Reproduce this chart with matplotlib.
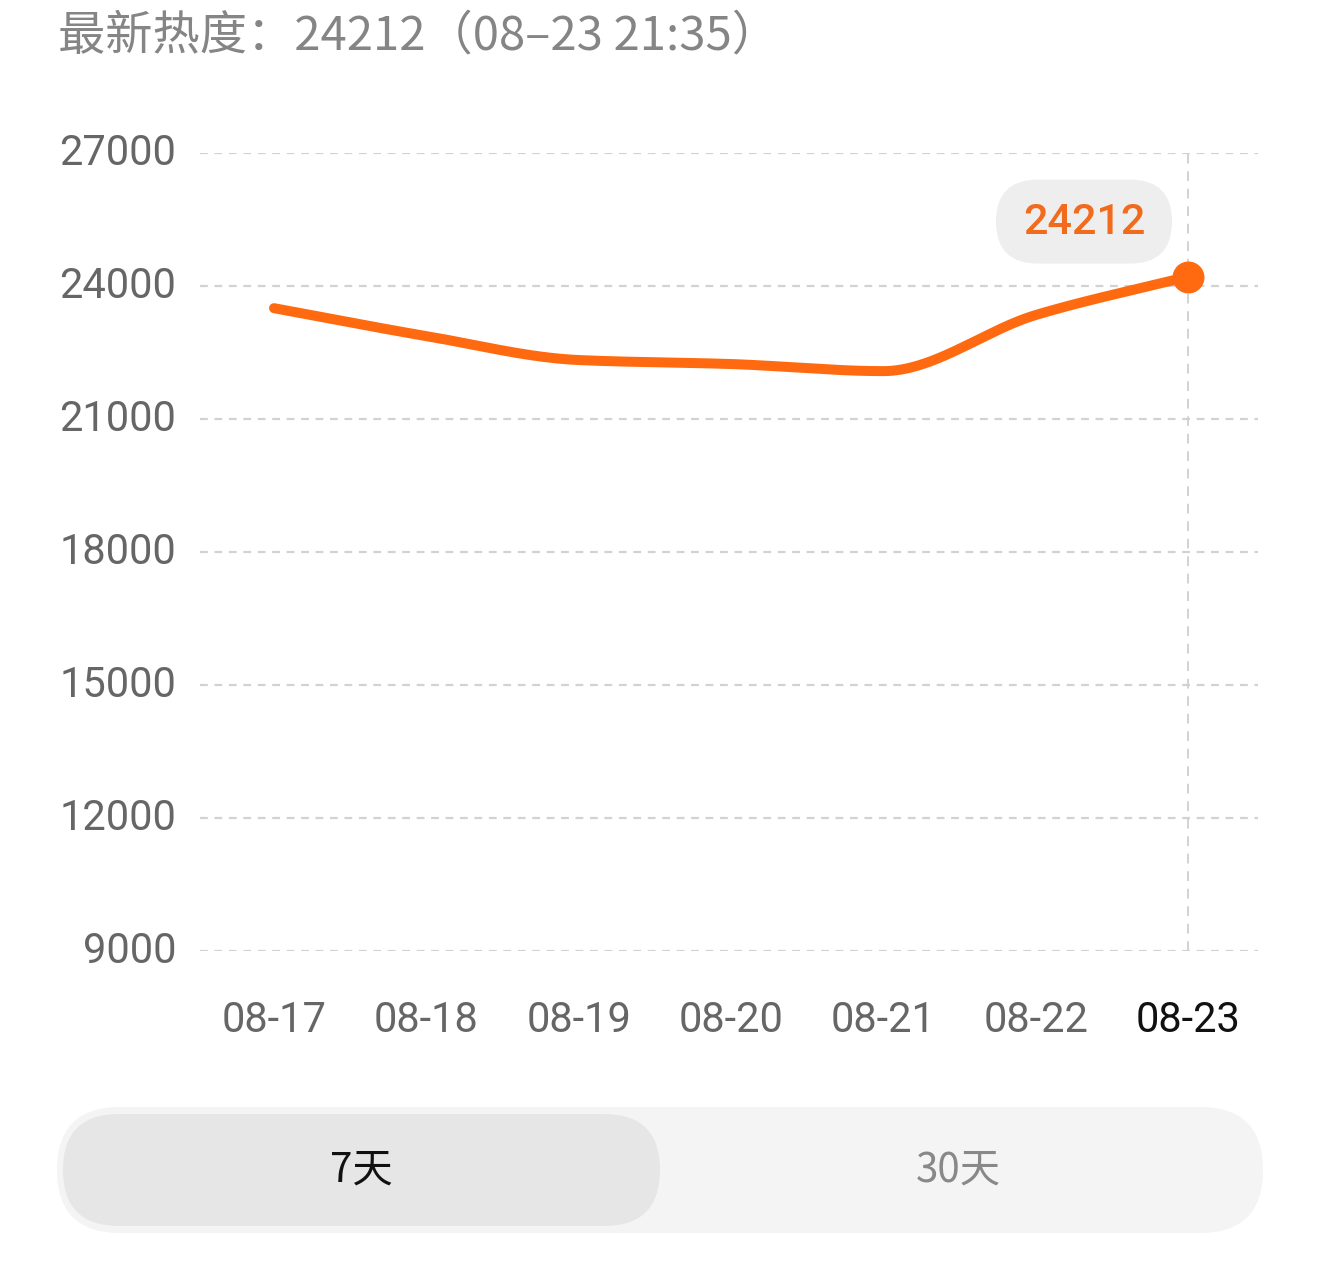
import numpy as np
import matplotlib
matplotlib.use("Agg")
import matplotlib.pyplot as plt
from matplotlib.patches import FancyBboxPatch
from matplotlib.transforms import ScaledTranslation

plt.rcParams['font.family'] = ['Roboto', 'Noto Sans CJK SC', 'DejaVu Sans']

# 数据
dates = ['08-17', '08-18', '08-19', '08-20', '08-21', '08-22', '08-23']
heat = [23500, 22870, 22330, 22240, 22080, 23345, 24212]
yticks = [9000, 12000, 15000, 18000, 21000, 24000, 27000]
title = '最新热度：24212（08–23 21:35）'
tabs = ['7天', '30天']

W, H = 1320, 1271
fig = plt.figure(figsize=(W / 100, H / 100), dpi=100)
fig.patch.set_facecolor('white')

# 主图区
ax = fig.add_axes([200 / W, 1 - 951 / H, (1258 - 200) / W, (951 - 153) / H])
x = np.arange(len(dates))
ax.set_xlim(-74 / 152.33, 6 + 70 / 152.33)
ax.set_ylim(yticks[0], yticks[-1])


# 单调三次插值，让折线平滑
def pchip(xs, ys, n=400):
    xs = np.asarray(xs, float)
    ys = np.asarray(ys, float)
    h = np.diff(xs)
    d = np.diff(ys) / h
    m = np.zeros_like(ys)
    for i in range(1, len(ys) - 1):
        if d[i - 1] * d[i] > 0:
            m[i] = 2 / (1 / d[i - 1] + 1 / d[i])
    m[0] = d[0]
    m[-1] = d[-1]
    xx = np.linspace(xs[0], xs[-1], n)
    idx = np.clip(np.searchsorted(xs, xx) - 1, 0, len(xs) - 2)
    t = (xx - xs[idx]) / h[idx]
    h00 = 2 * t**3 - 3 * t**2 + 1
    h10 = t**3 - 2 * t**2 + t
    h01 = -2 * t**3 + 3 * t**2
    h11 = t**3 - t**2
    yy = h00 * ys[idx] + h10 * h[idx] * m[idx] + h01 * ys[idx + 1] + h11 * h[idx] * m[idx + 1]
    return xx, yy


orange = '#ff6a10'
xs, ys = pchip(x, heat)
ax.plot(xs, ys, color=orange, lw=7.2, solid_capstyle='round', clip_on=False, zorder=3)
ax.plot(x[-1], heat[-1], 'o', color=orange, ms=22, clip_on=False, zorder=4)

# 网格和竖线
for v in yticks:
    ax.axhline(v, color='#d2d2d2', lw=1.6, ls=(0, (3.5, 3)), zorder=1)
ax.axvline(x[-1], color='#d2d2d2', lw=1.4, ls=(0, (5, 4)), zorder=1)

ax.set_yticks(yticks)
ax.set_yticklabels([str(v) for v in yticks], fontsize=30, color='#666666')
ax.set_xticks(x)
ax.set_xticklabels(dates, fontsize=30, color='#666666')
ax.get_xticklabels()[-1].set_color('#111111')
ax.tick_params(axis='y', length=0, pad=17)
ax.tick_params(axis='x', length=0, pad=35)
up = ScaledTranslation(0, 4 / 100, fig.dpi_scale_trans)
for lab in ax.get_yticklabels():
    lab.set_transform(lab.get_transform() + up)
for s in ax.spines.values():
    s.set_visible(False)
ax.set_facecolor('none')

# 覆盖层，用像素坐标画标题、提示框、切换按钮
ov = fig.add_axes([0, 0, 1, 1], zorder=-1)
ov.set_xlim(0, W)
ov.set_ylim(H, 0)
ov.axis('off')

ov.text(58, 36, title, fontsize=34, color='#858585', va='center', ha='left',
        family=['Noto Sans CJK SC', 'DejaVu Sans'])

# 当前值提示框（相对最后一个点定位）
px, py = ax.transData.transform((x[-1], heat[-1]))
py = H - py
bw, bh = 176, 84
bx, by = px - 104 - bw / 2, py - 55 - bh / 2
ov2 = fig.add_axes([0, 0, 1, 1], zorder=5)
ov2.set_xlim(0, W)
ov2.set_ylim(H, 0)
ov2.axis('off')
ov2.add_patch(FancyBboxPatch((bx, by), bw, bh, boxstyle='round,pad=0,rounding_size=42',
                             fc='#eeeeee', ec='none'))
ov2.text(bx + bw / 2, by + bh / 2 + 1, str(heat[-1]), fontsize=31, color='#f26a1b',
         ha='center', va='center', fontweight='medium')

# 底部切换按钮
ov.add_patch(FancyBboxPatch((57, 1107), 1206, 126, boxstyle='round,pad=0,rounding_size=63',
                            fc='#f4f4f4', ec='none'))
ov.add_patch(FancyBboxPatch((63, 1114), 597, 112, boxstyle='round,pad=0,rounding_size=56',
                            fc='#e6e6e6', ec='none'))
ov.text(361, 1170, tabs[0], fontsize=29, color='#111111', ha='center', va='center',
        family=['Noto Sans CJK SC', 'DejaVu Sans'])
ov.text(958, 1170, tabs[1], fontsize=29, color='#888888', ha='center', va='center',
        family=['Noto Sans CJK SC', 'DejaVu Sans'])

fig.savefig('out.png', dpi=100, facecolor='white')
